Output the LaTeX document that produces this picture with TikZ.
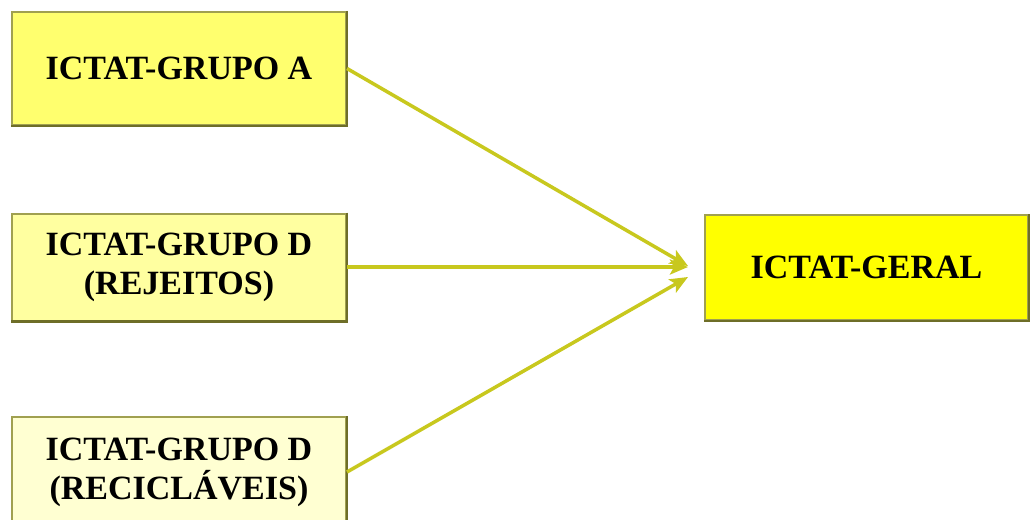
\documentclass[tikz,border=0pt]{standalone}
\usepackage{fontspec}
\setmainfont{Liberation Serif}
\usetikzlibrary{arrows.meta}
\definecolor{edgeol}{RGB}{160,160,80}
\definecolor{edgedark}{RGB}{110,110,40}
\definecolor{fillA}{RGB}{255,255,110}
\definecolor{fillB}{RGB}{255,255,160}
\definecolor{fillC}{RGB}{255,255,210}
\definecolor{fillG}{RGB}{255,255,0}
\definecolor{arrowcol}{RGB}{200,200,30}
\tikzset{
  box/.style={draw=edgeol, line width=2pt, rectangle, align=center,
    font=\fontsize{34}{39}\selectfont\bfseries, inner sep=0pt},
  bevel/.style={draw=edgedark, line width=2.5pt},
  feed/.style={draw=arrowcol, line width=3.5pt,
    -{Stealth[length=18pt,width=15pt,inset=4pt]}},
}
\begin{document}
\begin{tikzpicture}[x=1pt,y=-1pt]
  \useasboundingbox (0,0) rectangle (1032,519);
  \fill[white] (0,0) rectangle (1032,519);
  \begin{scope}
    \clip (0,0) rectangle (1032,519);
    \node[box, fill=fillA, minimum width=334pt, minimum height=113pt] (ga) at (179,68.5) {ICTAT-GRUPO A};
    \node[box, fill=fillB, minimum width=334pt, minimum height=107pt] (gd) at (179,267) {ICTAT-GRUPO D\\(REJEITOS)};
    \node[box, fill=fillC, minimum width=334pt, minimum height=110pt] (gr) at (179,472) {ICTAT-GRUPO D\\(RECICLÁVEIS)};
    % darker lower and right edges give the boxes a raised look
    \draw[bevel] (ga.north east) -- (ga.south east) -- (ga.south west);
    \draw[bevel] (gd.north east) -- (gd.south east) -- (gd.south west);
    \draw[bevel] (gr.north east) -- (gr.south east) -- (gr.south west);
  \end{scope}
  \node[box, fill=fillG, minimum width=323pt, minimum height=105pt] (geral) at (866.5,267.5) {ICTAT-GERAL};
  \draw[bevel] (geral.north east) -- (geral.south east) -- (geral.south west);
  \coordinate (tipa) at (688,266);
  \coordinate (tipd) at (688,267);
  \coordinate (tipr) at (688,277);
  \draw[feed] (ga.east) -- (tipa);
  \draw[feed] (gd.east) -- (tipd);
  \draw[feed] (gr.east) -- (tipr);
\end{tikzpicture}
\end{document}
